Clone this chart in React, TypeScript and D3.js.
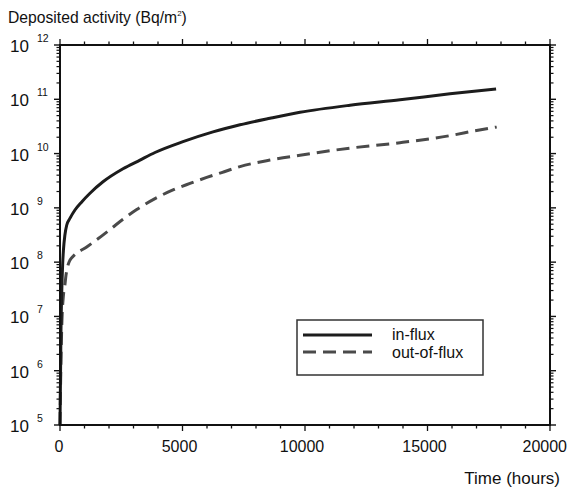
import React from "react";
import * as d3 from "d3";

const inFluxTime = [0, 20, 40, 70, 110, 140, 200, 273, 410, 610, 886, 1224, 1755, 2571, 3265, 3878, 5020, 6245, 7347, 8571, 9796, 11837, 13878, 15918, 17800];
const inFluxLog = [5.0, 5.83, 6.75, 7.43, 7.98, 8.22, 8.5, 8.68, 8.81, 8.96, 9.11, 9.27, 9.48, 9.72, 9.88, 10.02, 10.22, 10.4, 10.53, 10.65, 10.76, 10.89, 10.99, 11.1, 11.19];

const outFluxTime = [0, 40, 80, 140, 200, 245, 330, 410, 540, 1090, 1550, 2040, 2571, 3131, 3878, 4612, 5306, 5988, 6600, 7347, 8571, 9796, 11837, 13878, 15918, 16939, 17824];
const outFluxLog = [5.0, 6.2, 6.93, 7.39, 7.58, 7.76, 7.95, 8.04, 8.11, 8.28, 8.43, 8.6, 8.79, 8.97, 9.17, 9.33, 9.45, 9.56, 9.65, 9.76, 9.88, 9.97, 10.1, 10.2, 10.33, 10.42, 10.49];

const xTicks = [0, 5000, 10000, 15000, 20000];
const yExponents = [5, 6, 7, 8, 9, 10, 11, 12];
const legendLabels = ["in-flux", "out-of-flux"];

const W = 568, H = 488;
const left = 60, right = 550, top = 45, bottom = 425;
const FONT = "'Liberation Sans', Arial, Helvetica, sans-serif";

export default function App() {
  const x = d3.scaleLinear().domain([0, 20000]).range([left, right]);
  const y = d3.scaleLog().domain([1e5, 1e12]).range([bottom, top]);

  const line = d3
    .line<[number, number]>()
    .x((d) => x(d[0]))
    .y((d) => y(Math.pow(10, d[1])))
    .curve(d3.curveMonotoneX);

  const inData: [number, number][] = inFluxTime.map((t, i) => [t, inFluxLog[i]]);
  const outData: [number, number][] = outFluxTime.map((t, i) => [t, outFluxLog[i]]);

  const minorX = d3.range(0, 20001, 1000);
  const minorY: number[] = [];
  for (let e = 5; e < 12; e++) for (let m = 2; m <= 9; m++) minorY.push(m * Math.pow(10, e));

  return (
    <svg width={W} height={H} style={{ position: "absolute", left: 0, top: 0, background: "#fff" }}>
      <text x={8} y={23} fontFamily={FONT} fontSize={15.7} fill="#111">
        Deposited activity (Bq/m
        <tspan fontSize={8} dy={-7}>2</tspan>
        <tspan dy={7}>)</tspan>
      </text>

      {/* curves */}
      <path d={line(outData) || ""} fill="none" stroke="#4a4a4a" strokeWidth={3} strokeDasharray="13 7" />
      <path d={line(inData) || ""} fill="none" stroke="#1c1c1c" strokeWidth={3} />

      {/* frame */}
      <rect x={left} y={top} width={right - left} height={bottom - top} fill="none" stroke="#111" strokeWidth={2} />

      {/* x ticks */}
      {minorX.map((t) => {
        const major = t % 5000 === 0;
        const len = major ? 6 : 3.5;
        return (
          <g key={"xt" + t} stroke="#111" strokeWidth={1.3}>
            <line x1={x(t)} x2={x(t)} y1={bottom} y2={bottom + len} />
            <line x1={x(t)} x2={x(t)} y1={top} y2={top - len} />
          </g>
        );
      })}
      {xTicks.map((t, i) => {
        const last = i === xTicks.length - 1;
        return (
          <text
            key={"xl" + t}
            x={last ? 567 : x(t) - (t === 0 ? 1 : 3)}
            y={452}
            textAnchor={last ? "end" : "middle"}
            fontFamily={FONT}
            fontSize={16}
            fill="#111"
          >
            {t}
          </text>
        );
      })}

      {/* y ticks */}
      {minorY.map((v) => (
        <g key={"ym" + v} stroke="#111" strokeWidth={1.2}>
          <line x1={left - 3.5} x2={left} y1={y(v)} y2={y(v)} />
          <line x1={right - 1} x2={right + 3.5} y1={y(v)} y2={y(v)} />
        </g>
      ))}
      {yExponents.map((e) => (
        <g key={"yM" + e} stroke="#111" strokeWidth={1.4}>
          <line x1={left - 6} x2={left} y1={y(Math.pow(10, e))} y2={y(Math.pow(10, e))} />
          <line x1={right} x2={right + 6} y1={y(Math.pow(10, e))} y2={y(Math.pow(10, e))} />
        </g>
      ))}
      {yExponents.map((e) => (
        <g key={"yl" + e} fontFamily={FONT} fill="#111">
          <text x={29} y={y(Math.pow(10, e)) + 7} textAnchor="end" fontSize={17}>10</text>
          <text x={37} y={y(Math.pow(10, e)) - 3} fontSize={10.5}>{e}</text>
        </g>
      ))}

      <text x={560} y={484} textAnchor="end" fontFamily={FONT} fontSize={17} fill="#111">
        Time (hours)
      </text>

      {/* legend */}
      <rect x={297} y={320} width={186} height={55} fill="#fff" stroke="#333" strokeWidth={1.5} />
      <line x1={303} x2={372} y1={335} y2={335} stroke="#1c1c1c" strokeWidth={3} />
      <line x1={303} x2={372} y1={352} y2={352} stroke="#4a4a4a" strokeWidth={3} strokeDasharray="13 7" />
      {legendLabels.map((l, i) => (
        <text key={l} x={392} y={340 + i * 18} fontFamily={FONT} fontSize={16} fill="#111">
          {l}
        </text>
      ))}
    </svg>
  );
}
